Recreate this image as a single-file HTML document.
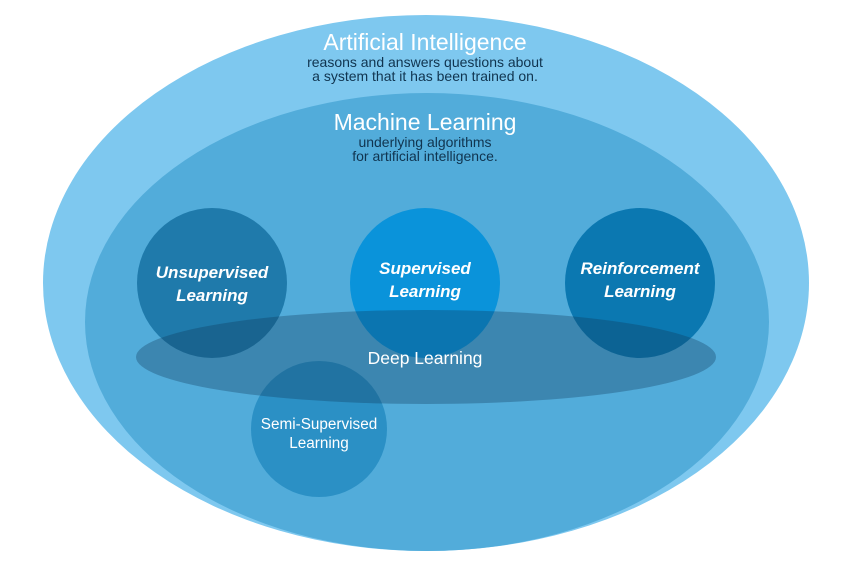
<!DOCTYPE html>
<html><head><meta charset="utf-8"><style>
html,body{margin:0;padding:0;background:#fff;}
svg text{font-family:"Liberation Sans",sans-serif;}
</style></head><body>
<svg width="850" height="567" viewBox="0 0 850 567" xmlns="http://www.w3.org/2000/svg">
<ellipse cx="426" cy="283" rx="383" ry="268" fill="#7ec8ef"/>
<ellipse cx="427" cy="322" rx="342" ry="229" fill="#52acda"/>
<circle cx="212" cy="283" r="75" fill="#1f7aab"/>
<circle cx="425" cy="283" r="75" fill="#0a93da"/>
<circle cx="640" cy="283" r="75" fill="#0b78b1"/>
<circle cx="319" cy="429" r="68" fill="#2b90c5"/>
<ellipse cx="426" cy="357" rx="290" ry="47" fill="#0e3a5a" fill-opacity="0.33"/>
<g fill="#fff" text-anchor="middle">
<text x="425" y="50" font-size="23">Artificial Intelligence</text>
<text x="425" y="67" font-size="14" fill="#10344f">reasons and answers questions about</text>
<text x="425" y="81" font-size="14" fill="#10344f">a system that it has been trained on.</text>
<text x="425" y="130" font-size="23">Machine Learning</text>
<text x="425" y="147" font-size="14" fill="#10344f">underlying algorithms</text>
<text x="425" y="161" font-size="14" fill="#10344f">for artificial intelligence.</text>
<text x="212" y="278" font-size="17" font-weight="bold" font-style="italic">Unsupervised</text>
<text x="212" y="301" font-size="17" font-weight="bold" font-style="italic">Learning</text>
<text x="425" y="274" font-size="17" font-weight="bold" font-style="italic">Supervised</text>
<text x="425" y="297" font-size="17" font-weight="bold" font-style="italic">Learning</text>
<text x="640" y="274" font-size="17" font-weight="bold" font-style="italic">Reinforcement</text>
<text x="640" y="297" font-size="17" font-weight="bold" font-style="italic">Learning</text>
<text x="425" y="364" font-size="17.5">Deep Learning</text>
<text x="319" y="429" font-size="15.3">Semi-Supervised</text>
<text x="319" y="448" font-size="15.3">Learning</text>
</g>
</svg>
</body></html>
